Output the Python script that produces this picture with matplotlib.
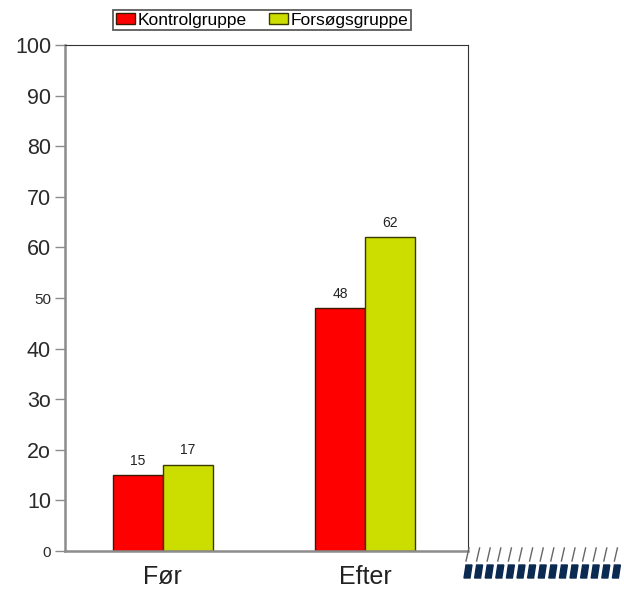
import numpy as np
import matplotlib.pyplot as plt
from matplotlib.lines import Line2D
from matplotlib.patches import Polygon

plt.rcParams['font.family'] = ['Liberation Sans', 'DejaVu Sans']

# ------- Daten ----------------
kategorien = ['Før', 'Efter']
kontrol = [15, 48]
forsoeg = [17, 62]
serier = ['Kontrolgruppe', 'Forsøgsgruppe']
yticks = [0, 10, 20, 30, 40, 50, 60, 70, 80, 90, 100]
ytick_labels = ['0', '10', '2o', '3o', '40', '50', '60', '70', '80', '90', '100']

rot = '#ff0000'
gruen = '#ccdd00'
grau = '#8c8c8c'

fig = plt.figure(figsize=(6.24, 5.89), dpi=100)
ax = fig.add_axes([0.104, 0.0645, 0.646, 0.859])

x = np.arange(len(kategorien))
w = 0.248
b1 = ax.bar(x - w/2, kontrol, w, color=rot, edgecolor='#3a1a00', linewidth=1.0, label=serier[0])
b2 = ax.bar(x + w/2, forsoeg, w, color=gruen, edgecolor='#3a3a00', linewidth=1.0, label=serier[1])

for bars in (b1, b2):
    for r in bars:
        ax.text(r.get_x() + r.get_width()/2, r.get_height() + 1.5, f'{int(r.get_height())}',
                ha='center', va='bottom', fontsize=10, color='#222222')

ax.set_xlim(-0.485, 1.51)
ax.set_ylim(0, 100)
ax.set_xticks(x)
ax.set_xticklabels(kategorien, fontsize=18, color='#222222')
ax.tick_params(axis='x', length=0, pad=10)
ax.set_yticks(yticks)
ax.set_yticklabels(ytick_labels, fontsize=15.5, color='#2a2a2a')
for lbl in ax.get_yticklabels():
    if lbl.get_text() in ('0', '50'):
        lbl.set_fontsize(11)
ax.tick_params(axis='y', length=7, width=1, color=grau, pad=3)

ax.spines['left'].set_color(grau)
ax.spines['left'].set_linewidth(1.8)
ax.spines['bottom'].set_color(grau)
ax.spines['bottom'].set_linewidth(1.8)
ax.spines['top'].set_color('#333333')
ax.spines['top'].set_linewidth(0.8)
ax.spines['right'].set_color('#333333')
ax.spines['right'].set_linewidth(0.8)

leg = fig.legend(loc='upper left', bbox_to_anchor=(0.181, 0.983), ncol=2, fontsize=12.5,
                 frameon=True, fancybox=False, edgecolor='#333333', handlelength=1.1,
                 handleheight=0.6, handletextpad=0.15, columnspacing=1.3,
                 borderpad=0.15, borderaxespad=0)
leg.get_frame().set_linewidth(1.3)

# Dekoration unten rechts (Schraffur)
W, H = 624, 589
for i in range(15):
    x0 = 466 + i * 10.6
    fig.add_artist(Line2D([x0 / W, (x0 + 3) / W], [1 - 561 / H, 1 - 548 / H],
                          color='#666666', linewidth=1.0, transform=fig.transFigure))
    fig.add_artist(Polygon([[(x0 - 2) / W, 1 - 578 / H], [(x0 + 4) / W, 1 - 578 / H],
                            [(x0 + 6) / W, 1 - 565 / H], [x0 / W, 1 - 565 / H]],
                           closed=True, color='#0b2a52', transform=fig.transFigure))

fig.savefig('out.png', dpi=100)
